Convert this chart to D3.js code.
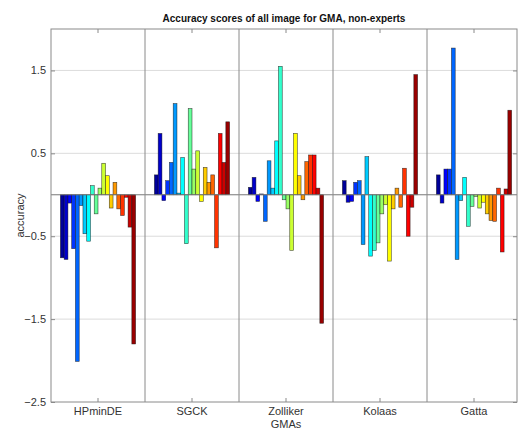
<!DOCTYPE html>
<html>
<head>
<meta charset="utf-8">
<script src="https://cdn.jsdelivr.net/npm/d3@7"></script>
<style>
  html, body { margin: 0; padding: 0; background: #fff; }
  svg { display: block; font-family: Arial, "Liberation Sans", sans-serif; }
</style>
</head>
<body>
<svg id="chart" width="519" height="428"></svg>
<script>
// GMA methods on the x axis
const groups = ["HPminDE", "SGCK", "Zolliker", "Kolaas", "Gatta"];

// Accuracy score per image (20 images) for each GMA
const hpminde  = [-0.76, -0.78, -0.10, -0.65, -2.01, -0.13, -0.47, -0.56, 0.11, -0.23,
                   0.08,  0.38,  0.23, -0.16,  0.15, -0.17, -0.25, -0.03, -0.39, -1.80];
const sgck     = [ 0.24,  0.74, -0.07,  0.17,  0.39,  1.10,  0.02,  0.45, -0.59,  1.04,
                   0.31,  0.53, -0.08,  0.33,  0.15,  0.24, -0.64,  0.74,  0.39,  0.88];
const zolliker = [ 0.09,  0.21, -0.08,  0.01, -0.32,  0.41,  0.08,  0.65,  1.55, -0.06,
                  -0.17, -0.67,  0.74,  0.23, -0.06,  0.40,  0.48,  0.48,  0.08, -1.55];
const kolaas   = [ 0.17, -0.09, -0.08,  0.15,  0.17, -0.60,  0.46, -0.74, -0.67, -0.58,
                  -0.23, -0.12, -0.80, -0.17,  0.08, -0.15,  0.32, -0.50, -0.15,  1.45];
const gatta    = [ 0.24, -0.10,  0.31,  0.31,  1.77, -0.78, -0.07,  0.21, -0.38, -0.14,
                  -0.02, -0.16, -0.09, -0.23, -0.31, -0.32,  0.08, -0.69,  0.07,  1.02];
const scoresByGroup = [hpminde, sgck, zolliker, kolaas, gatta];

const yTicks = [1.5, 0.5, -0.5, -1.5, -2.5];
const yDomain = [-2.5, 2];

const title = "Accuracy scores of all image for GMA, non-experts";
const xTitle = "GMAs";
const yTitle = "accuracy";

// MATLAB-style jet colormap with m entries
function jet(m) {
  const n = Math.ceil(m / 4);
  const u = [];
  for (let i = 1; i <= n; i++) u.push(i / n);
  for (let i = 1; i < n; i++) u.push(1);
  for (let i = n; i >= 1; i--) u.push(i / n);
  const off = Math.ceil(n / 2) - (m % 4 === 1 ? 1 : 0);
  const cols = Array.from({length: m}, () => [0, 0, 0]);
  u.forEach((v, k) => {
    const g = off + k + 1, r = g + n, b = g - n;
    if (r >= 1 && r <= m) cols[r - 1][0] = v;
    if (g >= 1 && g <= m) cols[g - 1][1] = v;
    if (b >= 1 && b <= m) cols[b - 1][2] = v;
  });
  return cols.map(c => d3.rgb(c[0] * 255, c[1] * 255, c[2] * 255).formatHex());
}

(function draw() {
  const svg = d3.select("#chart");
  const plotLeft = 51, plotTop = 29, plotBottom = 402, frameRight = 517;
  const nImages = hpminde.length;
  const colors = jet(nImages);

  const x0 = d3.scaleBand().domain(groups).range([plotLeft, 521]).paddingInner(0).paddingOuter(0);
  const x1 = d3.scaleBand().domain(d3.range(nImages))
    .range([x0.bandwidth() * 0.1, x0.bandwidth() * 0.9]);
  const y = d3.scaleLinear().domain(yDomain).range([plotBottom, plotTop]);

  // horizontal grid
  svg.append("g").selectAll("line").data(yTicks.filter(t => t > yDomain[0])).join("line")
    .attr("x1", plotLeft).attr("x2", frameRight)
    .attr("y1", d => y(d)).attr("y2", d => y(d))
    .attr("stroke", "#dcdcdc").attr("stroke-width", 1);

  // bars
  const g = svg.append("g").selectAll("g").data(groups).join("g")
    .attr("transform", d => `translate(${x0(d)},0)`);
  g.selectAll("rect")
    .data((d, gi) => scoresByGroup[gi].map((v, i) => ({v, i})))
    .join("rect")
    .attr("x", d => x1(d.i))
    .attr("width", x1.bandwidth())
    .attr("y", d => y(Math.max(0, d.v)))
    .attr("height", d => Math.abs(y(d.v) - y(0)))
    .attr("fill", d => colors[d.i])
    .attr("stroke", "#111").attr("stroke-width", 0.6).attr("stroke-opacity", 0.75);

  // zero baseline
  svg.append("line")
    .attr("x1", plotLeft).attr("x2", frameRight)
    .attr("y1", y(0)).attr("y2", y(0))
    .attr("stroke", "#777").attr("stroke-width", 1);

  // group separators
  svg.append("g").selectAll("line").data(groups.slice(1)).join("line")
    .attr("x1", d => x0(d)).attr("x2", d => x0(d))
    .attr("y1", plotTop).attr("y2", plotBottom)
    .attr("stroke", "#8a8a8a").attr("stroke-width", 1);

  // frame
  svg.append("rect")
    .attr("x", plotLeft).attr("y", plotTop)
    .attr("width", frameRight - plotLeft).attr("height", plotBottom - plotTop)
    .attr("fill", "none").attr("stroke", "#8a8a8a").attr("stroke-width", 1);

  // x axis (bottom) and mirrored ticks on top
  const xAxis = d3.axisBottom(x0).tickSizeInner(-4).tickSizeOuter(0).tickPadding(5);
  const gx = svg.append("g").attr("transform", `translate(0,${plotBottom})`).call(xAxis);
  gx.select(".domain").remove();
  gx.selectAll(".tick line").attr("stroke", "#8a8a8a");
  gx.selectAll(".tick text").attr("font-size", 11).attr("fill", "#333")
    .attr("font-family", "Arial, 'Liberation Sans', sans-serif");

  const gxTop = svg.append("g").attr("transform", `translate(0,${plotTop})`)
    .call(d3.axisTop(x0).tickSizeInner(-4).tickSizeOuter(0).tickFormat(""));
  gxTop.select(".domain").remove();
  gxTop.selectAll(".tick line").attr("stroke", "#8a8a8a");

  // y axis (left) and mirrored ticks on right
  const yAxis = d3.axisLeft(y).tickValues(yTicks).tickFormat(d3.format(".1f"))
    .tickSizeInner(-4).tickSizeOuter(0).tickPadding(5);
  const gy = svg.append("g").attr("transform", `translate(${plotLeft},0)`).call(yAxis);
  gy.select(".domain").remove();
  gy.selectAll(".tick line").attr("stroke", "#8a8a8a");
  gy.selectAll(".tick text").attr("font-size", 11).attr("fill", "#333")
    .attr("font-family", "Arial, 'Liberation Sans', sans-serif");

  const gyR = svg.append("g").attr("transform", `translate(${frameRight},0)`)
    .call(d3.axisRight(y).tickValues(yTicks).tickSizeInner(-4).tickSizeOuter(0).tickFormat(""));
  gyR.select(".domain").remove();
  gyR.selectAll(".tick line").attr("stroke", "#8a8a8a");

  // titles
  svg.append("text")
    .attr("x", (plotLeft + frameRight) / 2).attr("y", 22)
    .attr("text-anchor", "middle").attr("font-size", 10).attr("font-weight", "bold")
    .attr("fill", "#111").text(title);

  svg.append("text")
    .attr("x", x0("Zolliker") + x0.bandwidth() / 2).attr("y", 427.5)
    .attr("text-anchor", "middle").attr("font-size", 11).attr("fill", "#333")
    .text(xTitle);

  svg.append("text")
    .attr("transform", `translate(24,${(plotTop + plotBottom) / 2}) rotate(-90)`)
    .attr("text-anchor", "middle").attr("font-size", 11).attr("fill", "#333")
    .text(yTitle);
})();
</script>
</body>
</html>
